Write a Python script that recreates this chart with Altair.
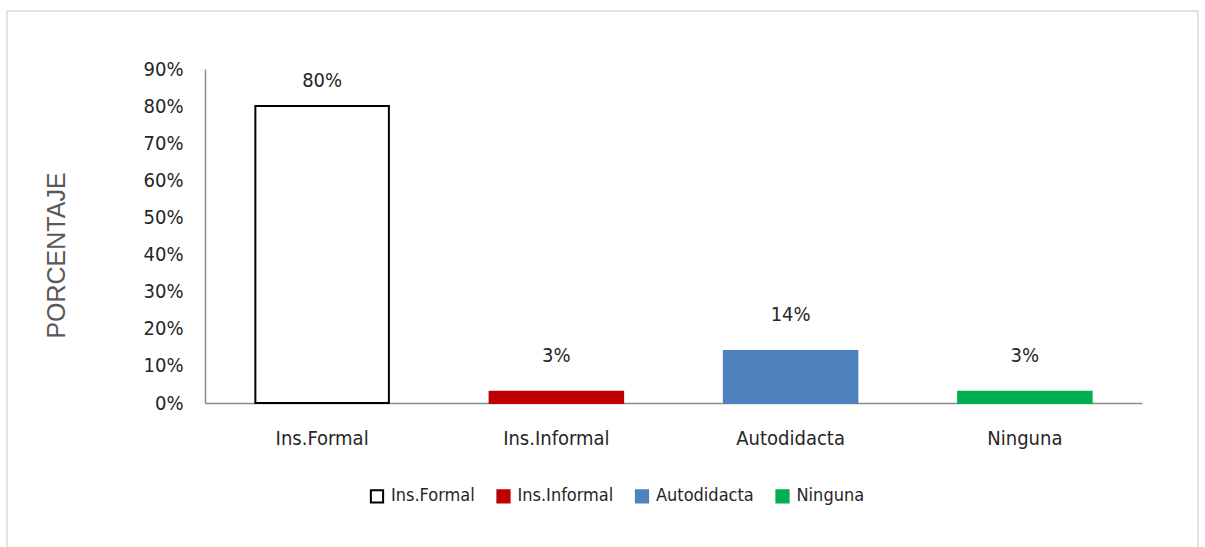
import altair as alt
import pandas as pd

categories = ["Ins.Formal", "Ins.Informal", "Autodidacta", "Ninguna"]
values = [0.80, 0.03, 0.14, 0.03]
labels = ["80%", "3%", "14%", "3%"]
colors = ["#FFFFFF", "#C00000", "#4F81BD", "#00B050"]
strokes = ["#000000", "#C00000", "#4F81BD", "#00B050"]
ticks = [0, .1, .2, .3, .4, .5, .6, .7, .8, .9]

df = pd.DataFrame({"cat": categories, "val": values, "lab": labels})

FONT = "DejaVu Sans Condensed, Roboto, sans-serif"
FS = 20

color_scale = alt.Scale(domain=categories, range=colors)
stroke_scale = alt.Scale(domain=categories, range=strokes)

x = alt.X("cat:N", sort=categories, title=None,
          scale=alt.Scale(paddingInner=0.43, paddingOuter=0.215),
          axis=alt.Axis(labelAngle=0, ticks=False, labelPadding=25, labelFontSize=FS,
                        labelFont=FONT, labelColor="#262626", domainColor="#8C8C8C",
                        domainWidth=1.5))
y = alt.Y("val:Q", title="PORCENTAJE",
          scale=alt.Scale(domain=[0, 0.9], nice=False),
          axis=alt.Axis(format=".0%", values=ticks,
                        grid=False, ticks=False, labelPadding=22, labelFontSize=FS,
                        labelOverlap=False, labelFont=FONT, labelColor="#262626",
                        labelBaseline="middle",
                        domainColor="#8C8C8C",
                        domainWidth=1.5, titleFont="Liberation Sans", titleFontSize=25,
                        titleFontWeight="normal", titleColor="#595959",
                        titleX=-149, titleY=186, titleAngle=-90,
                        titleAlign="center", titleBaseline="middle"))

bars = alt.Chart(df).mark_bar(strokeWidth=2).encode(
    x=x, y=y,
    fill=alt.Fill("cat:N", scale=color_scale, sort=categories,
                  legend=alt.Legend(title=None, orient="none", direction="horizontal",
                                    legendX=163, legendY=418, symbolType="square",
                                    symbolSize=150, symbolStrokeWidth=2,
                                    labelFont=FONT, labelFontSize=18, labelColor="#262626",
                                    columnPadding=17.5, labelOffset=5)),
    stroke=alt.Stroke("cat:N", scale=stroke_scale, sort=categories, legend=None),
)

text_hi = alt.Chart(df).transform_filter("datum.val > 0.5").mark_text(
    dy=-25, font=FONT, fontSize=FS, color="#262626").encode(
    x=x, y=y, text="lab:N")
text_lo = alt.Chart(df).transform_filter("datum.val <= 0.5").mark_text(
    dy=-36, font=FONT, fontSize=FS, color="#262626").encode(
    x=x, y=y, text="lab:N")

border = alt.Chart(alt.Data(values=[{}])).mark_rect(
    fill=None, stroke="#D9D9D9", strokeWidth=1.5, clip=False).encode(
    x=alt.value(-198), x2=alt.value(993), y=alt.value(-58), y2=alt.value(500))

chart = alt.layer(border, bars, text_hi, text_lo).properties(
    width=937, height=334,
    background="white",
    autosize=alt.AutoSizeParams(type="none"),
    padding={"left": 205, "top": 69, "right": 63, "bottom": 144},
).configure_view(strokeOpacity=0, strokeWidth=0)

chart.save("out.html", embed_options={"renderer": "svg", "actions": False})
